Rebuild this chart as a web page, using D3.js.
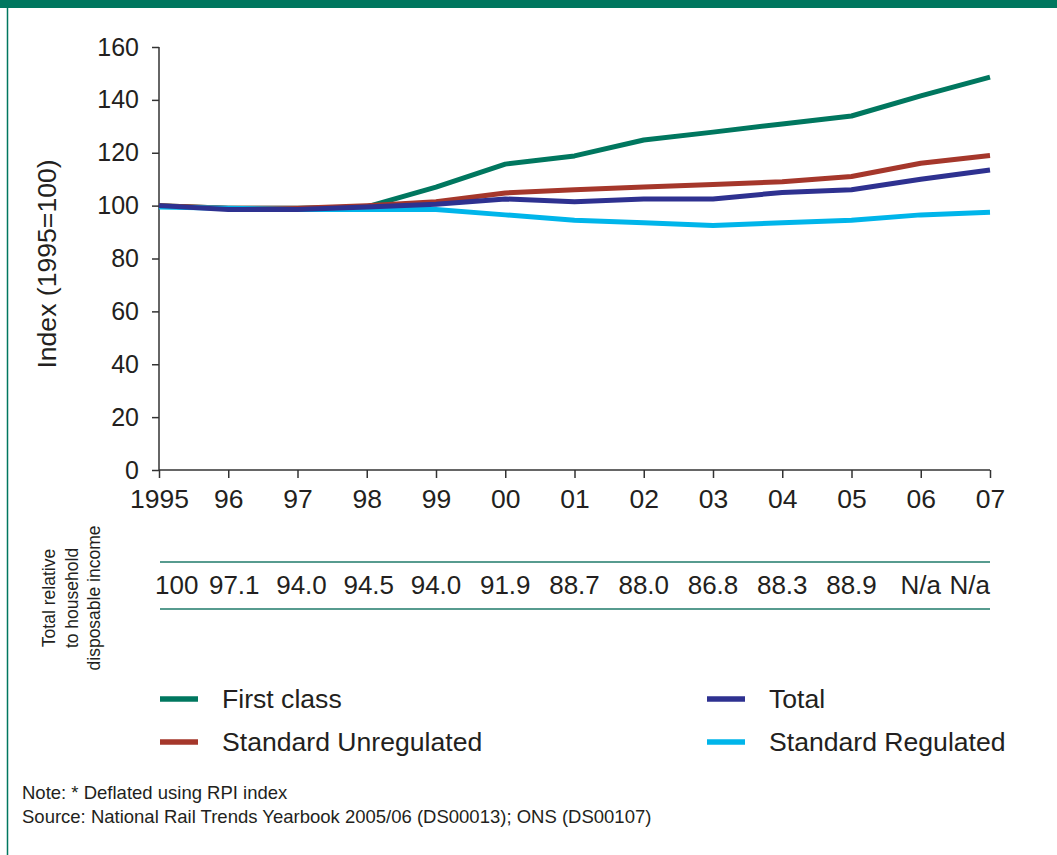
<!DOCTYPE html>
<html>
<head>
<meta charset="utf-8">
<script src="https://cdn.jsdelivr.net/npm/d3@7"></script>
<style>
  body { margin: 0; background: #fff; }
  svg { display: block; font-family: "Liberation Sans", Arial, sans-serif; }
</style>
</head>
<body>
<svg width="1057" height="855"></svg>
<script>
// data
var years = ["1995", "96", "97", "98", "99", "00", "01", "02", "03", "04", "05", "06", "07"];
var firstClass = [100, 99, 99, 99.5, 107, 115.7, 118.8, 124.8, 127.8, 130.9, 133.9, 141.5, 148.6];
var standardUnregulated = [100, 99, 99, 100, 101.5, 104.8, 106, 107, 108, 109, 111, 116, 119];
var total = [100, 98.5, 98.5, 99.5, 100.5, 102.5, 101.5, 102.5, 102.5, 105, 106, 110, 113.5];
var standardRegulated = [99.5, 99, 98.5, 98.5, 98.5, 96.5, 94.5, 93.5, 92.5, 93.5, 94.5, 96.5, 97.5];
var relativeIncome = ["100", "97.1", "94.0", "94.5", "94.0", "91.9", "88.7", "88.0", "86.8", "88.3", "88.9", "N/a", "N/a"];
var yTicks = [0, 20, 40, 60, 80, 100, 120, 140, 160];

var series = [
  { name: "First class", values: firstClass, color: "#00775f" },
  { name: "Standard Unregulated", values: standardUnregulated, color: "#a5372b" },
  { name: "Standard Regulated", values: standardRegulated, color: "#00b5ea" },
  { name: "Total", values: total, color: "#2e3190" }
];

var svg = d3.select("svg");
var textColor = "#231f20";

// frame
svg.append("rect").attr("x", 0).attr("y", 0).attr("width", 1057).attr("height", 8).attr("fill", "#00775f");
svg.append("line").attr("x1", 7.5).attr("x2", 7.5).attr("y1", 0).attr("y2", 855)
  .attr("stroke", "#00775f").attr("stroke-width", 1.5);

var x = d3.scalePoint().domain(years).range([159, 990]);
var y = d3.scaleLinear().domain([0, 160]).range([470, 47]);

// y axis
var yAxis = svg.append("g").attr("transform", "translate(159,0)")
  .call(d3.axisLeft(y).tickValues(yTicks).tickSize(7).tickPadding(13));
yAxis.select(".domain").attr("stroke", "#333").attr("stroke-width", 1.5).attr("d", "M0,47V470");
yAxis.selectAll(".tick line").attr("stroke", "#333").attr("stroke-width", 1.5);
yAxis.selectAll("text").attr("font-size", 25).attr("fill", textColor)
  .attr("font-family", "Liberation Sans, Arial, sans-serif");

// x axis
var xAxis = svg.append("g").attr("transform", "translate(0,470)")
  .call(d3.axisBottom(x).tickSize(8).tickPadding(11));
xAxis.select(".domain").attr("stroke", "#333").attr("stroke-width", 1.5).attr("d", "M159,0H990");
xAxis.selectAll(".tick line").attr("stroke", "#333").attr("stroke-width", 1.5);
xAxis.selectAll("text").attr("font-size", 26.5).attr("fill", textColor)
  .attr("font-family", "Liberation Sans, Arial, sans-serif");

svg.append("text")
  .attr("transform", "translate(56,264) rotate(-90)")
  .attr("text-anchor", "middle")
  .attr("font-size", 26.6).attr("fill", textColor)
  .text("Index (1995=100)");

// lines
var line = d3.line()
  .x(function (d, i) { return x(years[i]); })
  .y(function (d) { return y(d); });

svg.append("g").selectAll("path")
  .data(series)
  .enter().append("path")
    .attr("fill", "none")
    .attr("stroke", function (d) { return d.color; })
    .attr("stroke-width", 5)
    .attr("stroke-linejoin", "round")
    .attr("d", function (d) { return line(d.values); });

// table
svg.selectAll(".tline").data([562, 609]).enter().append("line")
  .attr("x1", 160).attr("x2", 990)
  .attr("y1", function (d) { return d; }).attr("y2", function (d) { return d; })
  .attr("stroke", "#1f7a6a").attr("stroke-width", 1.5);

svg.append("g").selectAll("text")
  .data(relativeIncome)
  .enter().append("text")
    .attr("x", function (d, i) {
      if (i === 0) return 155;
      if (i === years.length - 1) return 990;
      return x(years[i]) + (i < 4 ? 8 - i * 2 : 0);
    })
    .attr("y", 594)
    .attr("text-anchor", function (d, i) {
      return i === 0 ? "start" : (i === years.length - 1 ? "end" : "middle");
    })
    .attr("font-size", 26).attr("fill", textColor)
    .text(function (d) { return d; });

var sideLabel = ["Total relative", "to household", "disposable income"];
svg.append("g").selectAll("text")
  .data(sideLabel)
  .enter().append("text")
    .attr("transform", function (d, i) { return "translate(" + (55 + i * 22.5) + ",598) rotate(-90)"; })
    .attr("text-anchor", "middle")
    .attr("font-size", 17.5).attr("fill", textColor)
    .text(function (d) { return d; });

// legend
var legendItems = [
  { s: series[0], lx: 160, ty: 699 },
  { s: series[1], lx: 160, ty: 742 },
  { s: series[3], lx: 707, ty: 699 },
  { s: series[2], lx: 707, ty: 742 }
];
var leg = svg.append("g").selectAll("g").data(legendItems).enter().append("g");
leg.append("line")
  .attr("x1", function (d) { return d.lx; }).attr("x2", function (d) { return d.lx + 38; })
  .attr("y1", function (d) { return d.ty; }).attr("y2", function (d) { return d.ty; })
  .attr("stroke", function (d) { return d.s.color; }).attr("stroke-width", 5.5);
leg.append("text")
  .attr("x", function (d) { return d.lx + 62; })
  .attr("y", function (d) { return d.ty + 9; })
  .attr("font-size", 26.6).attr("fill", textColor)
  .text(function (d) { return d.s.name; });

// notes
svg.append("text").attr("x", 22).attr("y", 799).attr("font-size", 18.5).attr("fill", textColor)
  .text("Note: * Deflated using RPI index");
svg.append("text").attr("x", 22).attr("y", 823).attr("font-size", 18.5).attr("fill", textColor)
  .text("Source: National Rail Trends Yearbook 2005/06 (DS00013); ONS (DS00107)");
</script>
</body>
</html>
